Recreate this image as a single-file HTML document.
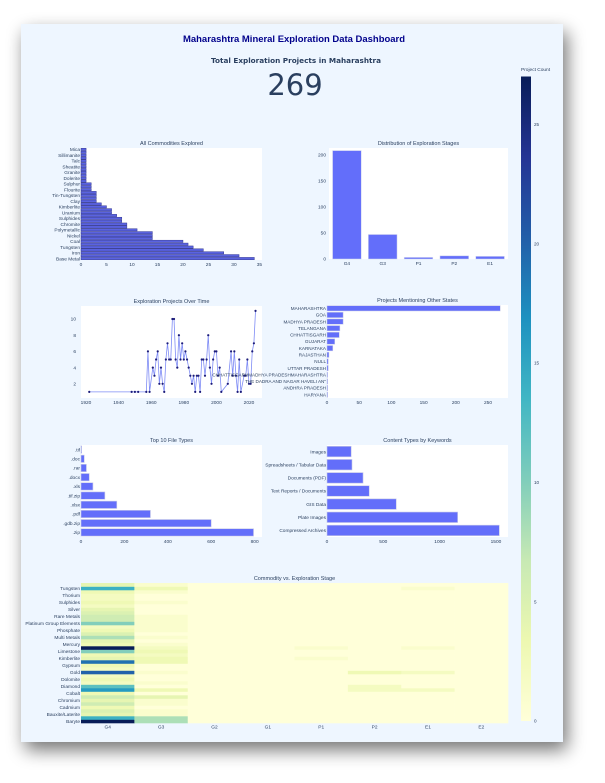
<!DOCTYPE html>
<html><head><meta charset="utf-8"><style>
html,body{margin:0;padding:0;background:#fff;}
svg{display:block;font-family:"Liberation Sans",sans-serif;}
</style></head><body>
<svg id="root" width="605" height="783" viewBox="0 0 605 783" xmlns="http://www.w3.org/2000/svg">
<defs>
<filter id="shadow" x="-10%" y="-10%" width="125%" height="125%"><feGaussianBlur in="SourceAlpha" stdDeviation="9"/><feOffset dx="4" dy="8"/><feComponentTransfer><feFuncA type="linear" slope="0.55"/></feComponentTransfer><feMerge><feMergeNode/><feMergeNode in="SourceGraphic"/></feMerge></filter>
<linearGradient id="cbgrad" x1="0" y1="1" x2="0" y2="0">
<stop offset="0" stop-color="#ffffd9"/><stop offset="0.125" stop-color="#edf8b1"/><stop offset="0.25" stop-color="#c7e9b4"/><stop offset="0.375" stop-color="#7fcdbb"/><stop offset="0.5" stop-color="#41b6c4"/><stop offset="0.625" stop-color="#1d91c0"/><stop offset="0.75" stop-color="#225ea8"/><stop offset="0.875" stop-color="#253494"/><stop offset="1" stop-color="#081d58"/>
</linearGradient>
</defs>
<rect x="21" y="24" width="542" height="718" fill="#eef6ff" filter="url(#shadow)"/>
<text x="294" y="42" text-anchor="middle" font-size="9.6" font-weight="bold" fill="#00008b" textLength="222" lengthAdjust="spacingAndGlyphs">Maharashtra Mineral Exploration Data Dashboard</text>
<text x="296" y="63" text-anchor="middle" font-size="7.4" font-weight="bold" fill="#2a3f5f" font-family="DejaVu Sans, sans-serif" textLength="170" lengthAdjust="spacingAndGlyphs">Total Exploration Projects in Maharashtra</text>
<text x="295" y="95" text-anchor="middle" font-size="29" fill="#2a3f5f" font-family="DejaVu Sans, sans-serif">269</text>
<g id="charts"></g>
</svg>
<script>
const commodityNames=["Base Metal","Copper","Iron","Manganese","Tungsten","Gold","Coal","Limestone","Nickel","Bauxite","Polymetallic","Graphite","Chromite","Lead","Sulphides","Zinc","Uranium","Cobalt","Kimberlite","Barite","Clay","Silica","Tin-Tungsten","Kyanite","Flourite","Gypsum","Sulphur","Quartz","Dolerite","Basalt","Granite","Laterite","Sheatite","Silver","Talc","Fluorspar","Sillimanite","Marble","Mica"];
const commodityValues=[34,31,28,24,22,21,20,14,14,14,11,9,9,8,8,7,6,6,5,4,3,3,3,3,2,2,2,1,1,1,1,1,1,1,1,1,1,1,1];
const commodityTicks=[0,5,10,15,20,25,30,35];
const stageNames=["G4","G3","P1","P2","E1"];
const stageValues=[208,47,3,6,5];
const stageTicks=[0,50,100,150,200];
const years=[1922,1948,1950,1952,1957,1958,1959,1961,1962,1963,1964,1965,1966,1967,1968,1969,1970,1971,1972,1973,1974,1975,1976,1977,1978,1979,1980,1981,1982,1983,1984,1985,1986,1987,1988,1989,1990,1991,1992,1993,1994,1995,1996,1997,1998,1999,2000,2001,2002,2003,2007,2009,2010,2011,2012,2013,2014,2015,2017,2018,2019,2020,2021,2022,2023,2024];
const yearCounts=[1,1,1,1,1,6,1,4,3,5,6,2,4,2,1,5,7,5,5,10,10,5,4,8,5,7,5,6,5,4,3,2,3,1,3,3,1,5,5,3,5,8,4,2,5,6,6,3,4,1,2,6,3,6,3,1,5,1,3,3,5,2,2,6,7,11];
const yearTicks=[1920,1940,1960,1980,2000,2020];
const countTicks=[2,4,6,8,10];
const stateNames=["MAHARASHTRA","GOA","MADHYA PRADESH","TELANGANA","CHHATTISGARH","GUJARAT","KARNATAKA","RAJASTHAN","NULL","UTTAR PRADESH","CHHATTISGARHMADHYA PRADESHMAHARASHTRA","THE DADRA AND NAGAR HAVELI AN\"","ANDHRA PRADESH","HARYANA"];
const stateValues=[269,25,25,20,19,12,9,3,2,2,1,1,1,1];
const stateTicks=[0,50,100,150,200,250];
const fileTypes=[".tif",".doc",".rar",".docx",".xls",".tif.zip",".xlsx",".pdf",".gdb.zip",".zip"];
const fileCounts=[3,15,25,38,55,110,165,320,600,795];
const fileTicks=[0,200,400,600,800];
const contentTypes=["Images","Spreadsheets / Tabular Data","Documents (PDF)","Text Reports / Documents","GIS Data","Plate Images","Compressed Archives"];
const contentCounts=[215,222,320,375,615,1160,1530];
const contentTicks=[0,500,1000,1500];
const heatStages=["G4","G3","G2","G1","P1","P2","E1","E2"];
const heatCommodities=["Baryte","Base Metal","Bauxite/Laterite","Beryl","Cadmium","Chromite","Chromium","Coal","Cobalt","Copper","Diamond","Dolerite","Dolomite","Flourite","Gold","Granite","Gypsum","Iron","Kimberlite","Lead","Limestone","Manganese","Mercury","Mica","Multi Metals","Nickel","Phosphate","Phosphorite","Platinum Group Elements","Polymetallic","Rare Metals","Sheatite","Silver","Sillimanite","Sulphides","Talc","Thorium","Tin-Tungsten","Tungsten","Uranium"];
const heatG4=[27,14,4,5,3,6,4,6,3,16,12,2,3,2,20,2,3,19,4,3,10,27,3,4,8,5,3,2,10,6,6,5,4,2,3,2,2,3,14,4];
const heatG3=[8,8,1,1,0,1,1,4,0,3,0,1,0,0,1,0,0,3,3,2,3,2,1,0,1,0,1,1,1,1,1,0,0,0,1,0,0,1,3,1];
const heatG2=[0,0,0,0,0,0,0,0,0,0,0,0,0,0,0,0,0,0,0,0,0,0,0,0,0,0,0,0,0,0,0,0,0,0,0,0,0,0,0,0];
const heatG1=[0,0,0,0,0,0,0,0,0,0,0,0,0,0,0,0,0,0,0,0,0,0,0,0,0,0,0,0,0,0,0,0,0,0,0,0,0,0,0,0];
const heatP1=[0,0,0,0,0,0,0,0,0,0,0,0,0,0,0,0,0,0,1,0,0,1,0,0,0,0,0,0,0,0,0,0,0,0,0,0,0,0,0,0];
const heatP2=[0,0,0,0,0,0,0,0,0,2,2,0,0,0,3,0,0,0,0,0,0,0,0,0,0,0,0,0,0,0,0,0,0,0,0,0,0,0,0,0];
const heatE1=[0,0,0,0,0,0,0,0,0,2,0,0,0,0,2,0,0,0,0,0,0,1,0,0,0,0,0,0,0,0,0,0,0,0,0,0,0,0,1,0];
const heatE2=[0,0,0,0,0,0,0,0,0,0,0,0,0,0,0,0,0,0,0,0,0,0,0,0,0,0,0,0,0,0,0,0,0,0,0,0,0,0,0,0];
const colorbarTicks=[0,5,10,15,20,25];

const NS="http://www.w3.org/2000/svg";
const root=document.getElementById('charts');
const TXT="#2a3f5f";
function el(tag,attrs,parent){const e=document.createElementNS(NS,tag);for(const k in attrs)e.setAttribute(k,attrs[k]);(parent||root).appendChild(e);return e;}
function txt(s,x,y,size,anchor,parent){const t=el('text',{x:x,y:y,'font-size':size,'text-anchor':anchor||'middle',fill:TXT},parent);t.textContent=s;return t;}
function lin(d0,d1,r0,r1){return v=>r0+(v-d0)/(d1-d0)*(r1-r0);}

function hbarChart(name,title,cats,vals,ticks,box,xmax,labelEvery){
  const g=el('g',{});
  
  
  const bg=el('rect',{x:box.x,y:box.y,width:box.w,height:box.h,fill:'#fff'},g);
  
  
  const t=txt(title,box.x+box.w/2,box.y-3,5.5,'middle',g);
  
  
  const xs=lin(0,xmax,box.x,box.x+box.w);
  const n=cats.length, band=box.h/n;
  cats.forEach((c,i)=>{
    const yTop=box.y+(n-1-i)*band;
    const r=el('rect',{x:xs(0),y:yTop+band*0.1,width:Math.max(0.3,xs(vals[i])-xs(0)),height:band*0.8,fill:'#5a63e0',stroke:'#2d318a','stroke-width':0.45},g);
    
    
    if(i%labelEvery===0){const l=txt(c,box.x-1,yTop+band/2+1.7,4.8,'end',g);
      
      }
  });
  ticks.forEach(v=>{const l=txt(String(v),xs(v),box.y+box.h+6,4.8,'middle',g);
    
    });
}

hbarChart('commodities-chart','All Commodities Explored',commodityNames,commodityValues,commodityTicks,{x:81,y:148,w:181,h:112},35.5,2);

(function(){
  const box={x:329,y:148,w:179,h:111};
  const g=el('g',{});
  
  
  el('rect',{x:box.x,y:box.y,width:box.w,height:box.h,fill:'#fff'},g);
  const t=txt('Distribution of Exploration Stages',box.x+box.w/2,box.y-3,5.5,'middle',g);
  
  
  const ys=lin(0,213,box.y+box.h,box.y);
  const band=box.w/stageNames.length;
  stageNames.forEach((s,i)=>{
    const x=box.x+i*band;
    const r=el('rect',{x:x+band*0.1,y:ys(stageValues[i]),width:band*0.8,height:ys(0)-ys(stageValues[i]),fill:'#636efa',stroke:'#d0d4ee','stroke-width':0.5},g);
    
    
    const l=txt(s,x+band/2,box.y+box.h+6,4.8,'middle',g);
    
    
  });
  stageTicks.forEach(v=>{const l=txt(String(v),box.x-3,ys(v)+1.7,4.8,'end',g);
    
    });
})();

(function(){
  const box={x:81,y:306,w:181,h:92};
  const g=el('g',{});
  
  
  el('rect',{x:box.x,y:box.y,width:box.w,height:box.h,fill:'#fff'},g);
  const t=txt('Exploration Projects Over Time',box.x+box.w/2,box.y-3,5.5,'middle',g);
  
  
  const xs=lin(1920,2020,86,249), ys=lin(0,10,400,319);
  const pts=years.map((y,i)=>xs(y).toFixed(2)+','+ys(yearCounts[i]).toFixed(2)).join(' ');
  const pl=el('polyline',{points:pts,fill:'none',stroke:'#7f8cf5','stroke-width':0.8},g);
  
  
  years.forEach((y,i)=>{const c=el('circle',{cx:xs(y),cy:ys(yearCounts[i]),r:1.1,fill:'#1c1c7a'},g);
    
    });
  yearTicks.forEach(v=>{const l=txt(String(v),xs(v),box.y+box.h+6,4.8,'middle',g);
    
    });
  countTicks.forEach(v=>{const l=txt(String(v),box.x-5,ys(v)+1.7,4.8,'end',g);
    
    });
})();

(function(){
  const box={x:327,y:305,w:181,h:93};
  const g=el('g',{});
  
  
  el('rect',{x:box.x,y:box.y,width:box.w,height:box.h,fill:'#fff'},g);
  const t=txt('Projects Mentioning Other States',box.x+box.w/2,box.y-3,5.5,'middle',g);
  
  
  const xs=lin(0,281,box.x,box.x+box.w);
  const band=box.h/stateNames.length;
  stateNames.forEach((s,i)=>{
    const y=box.y+i*band;
    const r=el('rect',{x:xs(0),y:y+band*0.1,width:Math.max(0.6,xs(stateValues[i])-xs(0)),height:band*0.8,fill:'#636efa',stroke:'#c8cbe8','stroke-width':0.5},g);
    
    
    const l=txt(s,box.x-1,y+band/2+1.7,4.6,'end',g);
    
    
  });
  stateTicks.forEach(v=>{const l=txt(String(v),xs(v),box.y+box.h+6,4.8,'middle',g);
    
    });
})();

function hbarTop(name,title,cats,vals,ticks,box,xmax){
  const g=el('g',{});
  
  
  el('rect',{x:box.x,y:box.y,width:box.w,height:box.h,fill:'#fff'},g);
  const t=txt(title,box.x+box.w/2,box.y-3,5.5,'middle',g);
  
  
  const xs=lin(0,xmax,box.x,box.x+box.w);
  const band=box.h/cats.length;
  cats.forEach((c,i)=>{
    const y=box.y+i*band;
    const r=el('rect',{x:xs(0),y:y+band*0.1,width:Math.max(0.6,xs(vals[i])-xs(0)),height:band*0.8,fill:'#636efa',stroke:'#c8cbe8','stroke-width':0.6},g);
    
    
    const l=txt(c,box.x-1,y+band/2+1.7,4.8,'end',g);
    
    
  });
  ticks.forEach(v=>{const l=txt(String(v),xs(v),box.y+box.h+6,4.8,'middle',g);
    
    });
}
hbarTop('file-types-chart','Top 10 File Types',fileTypes,fileCounts,fileTicks,{x:81,y:445,w:181,h:92},834);
hbarTop('content-types-chart','Content Types by Keywords',contentTypes,contentCounts,contentTicks,{x:327,y:445,w:181,h:92},1607);

const YLGNBU=["#ffffd9","#edf8b1","#c7e9b4","#7fcdbb","#41b6c4","#1d91c0","#225ea8","#253494","#081d58"];
function hex(c){return [1,3,5].map(i=>parseInt(c.substr(i,2),16));}
function colorFor(v,max){let t=Math.max(0,Math.min(1,v/max))*8;const i=Math.min(7,Math.floor(t)),f=t-i;const a=hex(YLGNBU[i]),b=hex(YLGNBU[i+1]);return 'rgb('+a.map((x,k)=>Math.round(x+(b[k]-x)*f)).join(',')+')';}
(function(){
  const box={x:81,y:583,w:427,h:140};
  const cols=[heatG4,heatG3,heatG2,heatG1,heatP1,heatP2,heatE1,heatE2];
  const g=el('g',{});
  
  
  const t=txt('Commodity vs. Exploration Stage',box.x+box.w/2,box.y-3,5.5,'middle',g);
  
  
  const cw=box.w/heatStages.length, rh=box.h/heatCommodities.length;
  const n=heatCommodities.length;
  cols.forEach((col,ci)=>{
    col.forEach((v,ri)=>{
      const r=el('rect',{x:box.x+ci*cw,y:box.y+(n-1-ri)*rh,width:cw+0.3,height:rh+0.3,fill:colorFor(v,27)},g);
      
      
    });
    const l=txt(heatStages[ci],box.x+ci*cw+cw/2,box.y+box.h+5.5,4.8,'middle',g);
    
    
  });
  heatCommodities.forEach((c,ri)=>{
    if(ri%2!==0)return;
    const l=txt(c,box.x-1,box.y+(n-1-ri)*rh+rh/2+1.7,4.8,'end',g);
    
    
  });
  const cb=el('rect',{x:521,y:76.5,width:10,height:644.5,fill:'url(#cbgrad)'},g);
  
  
  const ct=txt('Project Count',521,71,4.8,'start',g);
  
  
  const ys=lin(0,27,721,76.5);
  colorbarTicks.forEach(v=>{const l=txt(String(v),534,ys(v)+1.7,4.6,'start',g);
    
    });
})();
</script>
</body></html>
